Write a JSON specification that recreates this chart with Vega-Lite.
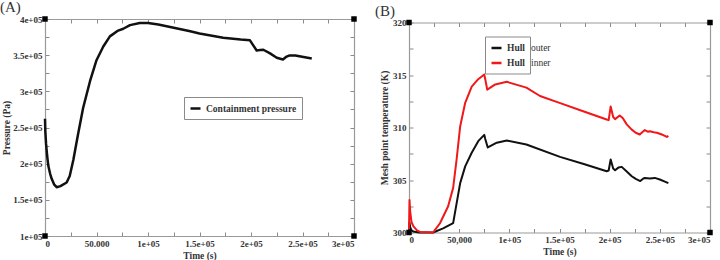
{
  "$schema": "https://vega.github.io/schema/vega-lite/v6.json",
  "padding": {"left": 0, "top": 0, "right": 0, "bottom": 0},
  "background": "white",
  "spacing": 55,
  "center": true,
  "bounds": "flush",
  "resolve": {
    "scale": {"color": "independent", "opacity": "independent"},
    "legend": {"color": "independent", "opacity": "independent"}
  },
  "config": {
    "view": {"stroke": null},
    "font": "Liberation Serif",
    "axis": {
      "grid": false,
      "domainColor": "#9a9a9a",
      "domainWidth": 1.2,
      "tickColor": "#8a8a8a",
      "tickSize": -4,
      "labelFont": "Liberation Serif",
      "labelFontWeight": "bold",
      "labelFontSize": 9,
      "labelColor": "#333333",
      "labelPadding": 7,
      "titleFont": "Liberation Serif",
      "titleFontWeight": "bold",
      "titleFontSize": 9.5,
      "titleColor": "#333333"
    },
    "legend": {
      "orient": "none",
      "title": null,
      "strokeColor": "#8a8a8a",
      "fillColor": "white",
      "padding": 5,
      "symbolType": "stroke",
      "symbolStrokeWidth": 2.5,
      "symbolSize": 100,
      "labelFont": "Liberation Serif",
      "labelFontWeight": "bold",
      "labelFontSize": 9.5,
      "labelColor": "#333333",
      "rowPadding": 3
    },
    "title": {"font": "Liberation Serif", "fontSize": 15, "fontWeight": "normal", "color": "#333333", "anchor": "start", "frame": "group"}
  },
  "datasets": {
    "pressure": [
      {"t": 0, "p": 262000}, {"t": 300, "p": 245000}, {"t": 1000, "p": 228000}, {"t": 2000, "p": 212000},
      {"t": 3200, "p": 197000}, {"t": 5000, "p": 186000}, {"t": 6500, "p": 179000}, {"t": 9000, "p": 171000},
      {"t": 11300, "p": 167500}, {"t": 15000, "p": 169000}, {"t": 21000, "p": 174000}, {"t": 24000, "p": 183000},
      {"t": 27500, "p": 205000}, {"t": 32000, "p": 240000}, {"t": 37000, "p": 277000}, {"t": 43700, "p": 314000},
      {"t": 50000, "p": 343000}, {"t": 56600, "p": 362000}, {"t": 63000, "p": 376000}, {"t": 71000, "p": 384000},
      {"t": 76000, "p": 386500}, {"t": 82500, "p": 391500}, {"t": 92000, "p": 394500}, {"t": 100000, "p": 394500},
      {"t": 110000, "p": 392500}, {"t": 125000, "p": 388000}, {"t": 141000, "p": 383000}, {"t": 150000, "p": 380000},
      {"t": 173000, "p": 374000}, {"t": 190000, "p": 371500}, {"t": 199000, "p": 370500}, {"t": 200600, "p": 367000},
      {"t": 205500, "p": 356500}, {"t": 209000, "p": 357000}, {"t": 212000, "p": 357500}, {"t": 218500, "p": 352500},
      {"t": 225000, "p": 346500}, {"t": 231000, "p": 344000}, {"t": 234000, "p": 347500}, {"t": 237000, "p": 349500},
      {"t": 243000, "p": 349500}, {"t": 251000, "p": 347500}, {"t": 259000, "p": 345500}
    ],
    "hull": [
      {"series": "Hull outer", "t": 0, "T": 300.0}, {"series": "Hull outer", "t": 500, "T": 300.95},
      {"series": "Hull outer", "t": 1200, "T": 300.5}, {"series": "Hull outer", "t": 2500, "T": 300.2},
      {"series": "Hull outer", "t": 4300, "T": 300.1}, {"series": "Hull outer", "t": 10000, "T": 300.0},
      {"series": "Hull outer", "t": 24000, "T": 300.0}, {"series": "Hull outer", "t": 34000, "T": 300.4},
      {"series": "Hull outer", "t": 44000, "T": 300.9}, {"series": "Hull outer", "t": 47500, "T": 302.8},
      {"series": "Hull outer", "t": 51000, "T": 304.7}, {"series": "Hull outer", "t": 56000, "T": 306.3},
      {"series": "Hull outer", "t": 62500, "T": 307.6}, {"series": "Hull outer", "t": 69000, "T": 308.7},
      {"series": "Hull outer", "t": 75000, "T": 309.3}, {"series": "Hull outer", "t": 76000, "T": 308.9},
      {"series": "Hull outer", "t": 78500, "T": 308.1}, {"series": "Hull outer", "t": 87500, "T": 308.55},
      {"series": "Hull outer", "t": 97500, "T": 308.76}, {"series": "Hull outer", "t": 117000, "T": 308.38},
      {"series": "Hull outer", "t": 150500, "T": 307.2}, {"series": "Hull outer", "t": 175000, "T": 306.5},
      {"series": "Hull outer", "t": 197000, "T": 305.84}, {"series": "Hull outer", "t": 199000, "T": 305.9},
      {"series": "Hull outer", "t": 201000, "T": 306.95}, {"series": "Hull outer", "t": 203500, "T": 306.1},
      {"series": "Hull outer", "t": 205400, "T": 305.93}, {"series": "Hull outer", "t": 209000, "T": 306.2},
      {"series": "Hull outer", "t": 212000, "T": 306.25}, {"series": "Hull outer", "t": 217000, "T": 305.8},
      {"series": "Hull outer", "t": 222000, "T": 305.36}, {"series": "Hull outer", "t": 226000, "T": 305.1},
      {"series": "Hull outer", "t": 230500, "T": 304.9}, {"series": "Hull outer", "t": 233000, "T": 305.1},
      {"series": "Hull outer", "t": 235000, "T": 305.2}, {"series": "Hull outer", "t": 240000, "T": 305.15},
      {"series": "Hull outer", "t": 245000, "T": 305.2}, {"series": "Hull outer", "t": 250000, "T": 305.05},
      {"series": "Hull outer", "t": 255000, "T": 304.85}, {"series": "Hull outer", "t": 258500, "T": 304.7},
      {"series": "Hull inner", "t": 0, "T": 300.3}, {"series": "Hull inner", "t": 500, "T": 303.1},
      {"series": "Hull inner", "t": 1200, "T": 302.0}, {"series": "Hull inner", "t": 2500, "T": 301.0},
      {"series": "Hull inner", "t": 4300, "T": 300.6}, {"series": "Hull inner", "t": 8000, "T": 300.2},
      {"series": "Hull inner", "t": 11000, "T": 300.05}, {"series": "Hull inner", "t": 24000, "T": 300.0},
      {"series": "Hull inner", "t": 31000, "T": 300.9}, {"series": "Hull inner", "t": 39000, "T": 302.5},
      {"series": "Hull inner", "t": 44000, "T": 304.25}, {"series": "Hull inner", "t": 47500, "T": 307.0},
      {"series": "Hull inner", "t": 51000, "T": 310.1}, {"series": "Hull inner", "t": 56000, "T": 312.35},
      {"series": "Hull inner", "t": 62500, "T": 313.9}, {"series": "Hull inner", "t": 69000, "T": 314.6},
      {"series": "Hull inner", "t": 75000, "T": 315.05}, {"series": "Hull inner", "t": 76000, "T": 314.6},
      {"series": "Hull inner", "t": 78000, "T": 313.6}, {"series": "Hull inner", "t": 86000, "T": 314.1},
      {"series": "Hull inner", "t": 97500, "T": 314.35}, {"series": "Hull inner", "t": 117000, "T": 313.8},
      {"series": "Hull inner", "t": 130600, "T": 313.0}, {"series": "Hull inner", "t": 150000, "T": 312.35},
      {"series": "Hull inner", "t": 175000, "T": 311.5}, {"series": "Hull inner", "t": 197000, "T": 310.76},
      {"series": "Hull inner", "t": 199000, "T": 310.7}, {"series": "Hull inner", "t": 201000, "T": 312.0},
      {"series": "Hull inner", "t": 203500, "T": 311.0}, {"series": "Hull inner", "t": 205400, "T": 310.8},
      {"series": "Hull inner", "t": 210000, "T": 311.15}, {"series": "Hull inner", "t": 213000, "T": 310.9},
      {"series": "Hull inner", "t": 217000, "T": 310.3}, {"series": "Hull inner", "t": 222000, "T": 309.8},
      {"series": "Hull inner", "t": 226000, "T": 309.5}, {"series": "Hull inner", "t": 230000, "T": 309.33},
      {"series": "Hull inner", "t": 233000, "T": 309.6}, {"series": "Hull inner", "t": 235000, "T": 309.75},
      {"series": "Hull inner", "t": 238000, "T": 309.6}, {"series": "Hull inner", "t": 240000, "T": 309.65},
      {"series": "Hull inner", "t": 244000, "T": 309.55}, {"series": "Hull inner", "t": 247000, "T": 309.5},
      {"series": "Hull inner", "t": 252000, "T": 309.33}, {"series": "Hull inner", "t": 255000, "T": 309.2},
      {"series": "Hull inner", "t": 257000, "T": 309.1}, {"series": "Hull inner", "t": 258500, "T": 309.2}
    ],
    "cornersA": [
      {"t": 0, "p": 100000}, {"t": 0, "p": 400000}, {"t": 300000, "p": 100000}, {"t": 300000, "p": 400000}
    ],
    "cornersB": [
      {"t": 0, "T": 300}, {"t": 0, "T": 320}, {"t": 300000, "T": 300}, {"t": 300000, "T": 320}
    ]
  },
  "hconcat": [
    {
      "width": 309,
      "height": 217,
      "title": {"text": "(A)", "dx": -45, "offset": 0},
      "layer": [
        {
          "data": {"name": "pressure"},
          "mark": {"type": "line", "strokeWidth": 2.5, "strokeJoin": "round"},
          "encoding": {
            "x": {
              "field": "t", "type": "quantitative",
              "scale": {"domain": [0, 300000], "nice": false, "zero": false},
              "axis": {
                "orient": "bottom", "title": "Time (s)",
                "values": [0, 25000, 50000, 75000, 100000, 125000, 150000, 175000, 200000, 225000, 250000, 275000, 300000],
                "labelExpr": "datum.value % 50000 != 0 ? '' : datum.value == 0 ? '0' : datum.value == 50000 ? '50.000' : datum.value / 100000 + 'e+05'",
                "titlePadding": 2
              }
            },
            "y": {
              "field": "p", "type": "quantitative",
              "scale": {"domain": [100000, 400000], "nice": false, "zero": false},
              "axis": {
                "orient": "left", "title": "Pressure (Pa)",
                "values": [100000, 125000, 150000, 175000, 200000, 225000, 250000, 275000, 300000, 325000, 350000, 375000, 400000],
                "labelExpr": "datum.value % 50000 != 0 ? '' : datum.value / 100000 + 'e+05'",
                "titlePadding": 1
              }
            },
            "color": {
              "datum": "Containment pressure",
              "scale": {"range": ["#111111"]},
              "legend": {"legendX": 139, "legendY": 78}
            }
          }
        },
        {
          "data": {"name": "cornersA"},
          "mark": {"type": "square", "size": 30, "color": "#000000", "opacity": 1},
          "encoding": {
            "x": {
              "field": "t", "type": "quantitative",
              "axis": {"orient": "top", "title": null, "labels": false,
                "values": [0, 25000, 50000, 75000, 100000, 125000, 150000, 175000, 200000, 225000, 250000, 275000, 300000]}
            },
            "y": {
              "field": "p", "type": "quantitative",
              "axis": {"orient": "right", "title": null, "labels": false,
                "values": [100000, 125000, 150000, 175000, 200000, 225000, 250000, 275000, 300000, 325000, 350000, 375000, 400000]}
            }
          }
        }
      ],
      "resolve": {"axis": {"x": "independent", "y": "independent"}}
    },
    {
      "width": 301,
      "height": 210,
      "title": {"text": "(B)", "dx": -34, "offset": 0},
      "layer": [
        {
          "data": {"name": "hull"},
          "mark": {"type": "line", "strokeWidth": 2, "strokeJoin": "round"},
          "encoding": {
            "x": {
              "field": "t", "type": "quantitative",
              "scale": {"domain": [0, 300000], "nice": false, "zero": false},
              "axis": {
                "orient": "bottom", "title": "Time (s)",
                "values": [0, 25000, 50000, 75000, 100000, 125000, 150000, 175000, 200000, 225000, 250000, 275000, 300000],
                "labelExpr": "datum.value % 50000 != 0 ? '' : datum.value == 0 ? '0' : datum.value == 50000 ? '50,000' : datum.value / 100000 + 'e+05'",
                "titlePadding": 2
              }
            },
            "y": {
              "field": "T", "type": "quantitative",
              "scale": {"domain": [300, 320], "nice": false, "zero": false},
              "axis": {
                "orient": "left", "title": "Mesh point temperature (K)",
                "values": [300, 302.5, 305, 307.5, 310, 312.5, 315, 317.5, 320],
                "labelExpr": "datum.value % 5 != 0 ? '' : datum.value + ''",
                "titlePadding": 3
              }
            },
            "color": {
              "field": "series", "type": "nominal",
              "scale": {"domain": ["Hull outer", "Hull inner"], "range": ["#111111", "#f01818"]},
              "legend": {"legendX": 76, "legendY": 14, "labelExpr": "'Hull\u2002\u2002\u2002\u2002'"}
            },
            "opacity": {
              "field": "series", "type": "nominal",
              "sort": "descending",
              "scale": {"range": [1, 1]},
              "legend": {
                "legendX": 100, "legendY": 14,
                "labelExpr": "datum.label == 'Hull outer' ? 'outer' : 'inner'",
                "labelFontWeight": "normal",
                "symbolOpacity": 0,
                "symbolStrokeWidth": 2.5,
                "symbolStrokeColor": "transparent",
                "strokeColor": "transparent",
                "fillColor": "transparent"
              }
            }
          }
        },
        {
          "data": {"name": "cornersB"},
          "mark": {"type": "square", "size": 30, "color": "#000000", "opacity": 1},
          "encoding": {
            "x": {
              "field": "t", "type": "quantitative",
              "axis": {"orient": "top", "title": null, "labels": false,
                "values": [0, 25000, 50000, 75000, 100000, 125000, 150000, 175000, 200000, 225000, 250000, 275000, 300000]}
            },
            "y": {
              "field": "T", "type": "quantitative",
              "axis": {"orient": "right", "title": null, "labels": false,
                "values": [300, 302.5, 305, 307.5, 310, 312.5, 315, 317.5, 320]}
            }
          }
        }
      ],
      "resolve": {"axis": {"x": "independent", "y": "independent"}}
    }
  ]
}
